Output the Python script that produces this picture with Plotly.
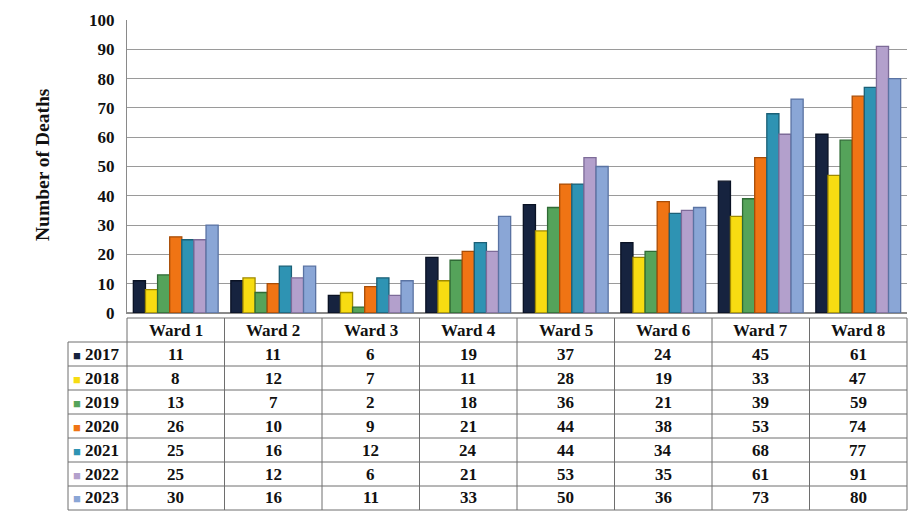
import plotly.graph_objects as go

wards = ["Ward 1", "Ward 2", "Ward 3", "Ward 4", "Ward 5", "Ward 6", "Ward 7", "Ward 8"]
years = ["2017", "2018", "2019", "2020", "2021", "2022", "2023"]

deaths_2017 = [11, 11, 6, 19, 37, 24, 45, 61]
deaths_2018 = [8, 12, 7, 11, 28, 19, 33, 47]
deaths_2019 = [13, 7, 2, 18, 36, 21, 39, 59]
deaths_2020 = [26, 10, 9, 21, 44, 38, 53, 74]
deaths_2021 = [25, 16, 12, 24, 44, 34, 68, 77]
deaths_2022 = [25, 12, 6, 21, 53, 35, 61, 91]
deaths_2023 = [30, 16, 11, 33, 50, 36, 73, 80]

series = [deaths_2017, deaths_2018, deaths_2019, deaths_2020,
          deaths_2021, deaths_2022, deaths_2023]
colors = ["#16233f", "#f7dc12", "#55a35a", "#f07414", "#2e93b3", "#b3a0cc", "#8aa6d6"]
edges = ["#0a1224", "#a08a00", "#2f6a35", "#a84c06", "#1b6077", "#7d6b98", "#5a73a3"]

W, H = 923, 520
L, R, T, B = 127, 16, 20, 207
PW, PH = W - L - R, H - T - B
FONT = "Times New Roman, Liberation Serif, DejaVu Serif, serif"

fig = go.Figure()
for yr, vals, c, e in zip(years, series, colors, edges):
    fig.add_trace(go.Bar(
        x=wards, y=vals, name=yr,
        marker=dict(color=c, line=dict(color=e, width=1.3)),
        showlegend=False,
    ))


def py(pix):
    """Convert a pixel row (from top) to paper y."""
    return (H - B - pix) / PH


def px(pix):
    return (pix - L) / PW


shapes = []
annotations = []

# data table below the plot
head_top, head_bot = 318, 342
row_h = 24
left_edge = 68
n_rows = len(years)
table_bot = head_bot + n_rows * row_h
line_col = "#6e6e6e"

shapes.append(dict(type="line", xref="paper", yref="paper",
                   x0=0, x1=1, y0=py(head_top), y1=py(head_top),
                   line=dict(color=line_col, width=1)))
for r in range(n_rows + 1):
    yy = py(head_bot + r * row_h)
    shapes.append(dict(type="line", xref="paper", yref="paper",
                       x0=px(left_edge), x1=1, y0=yy, y1=yy,
                       line=dict(color=line_col, width=1)))
for k in range(len(wards) + 1):
    xx = k / len(wards)
    shapes.append(dict(type="line", xref="paper", yref="paper",
                       x0=xx, x1=xx, y0=py(head_top), y1=py(table_bot),
                       line=dict(color=line_col, width=1)))
shapes.append(dict(type="line", xref="paper", yref="paper",
                   x0=px(left_edge), x1=px(left_edge),
                   y0=py(head_bot), y1=py(table_bot),
                   line=dict(color=line_col, width=1)))

fnt = dict(family=FONT, size=17, color="#111111")
for i, wname in enumerate(wards):
    annotations.append(dict(x=wname, xref="x", yref="paper",
                            y=py((head_top + head_bot) / 2), text=f"<b>{wname}</b>",
                            showarrow=False, font=fnt, xanchor="center", yanchor="middle"))
for r, (yr, vals, c) in enumerate(zip(years, series, colors)):
    yc = py(head_bot + r * row_h + row_h / 2)
    annotations.append(dict(x=px(left_edge + 3), xref="paper", yref="paper", y=yc,
                            text=f"<span style='color:{c};font-size:13px'>■</span> <b>{yr}</b>",
                            showarrow=False, font=fnt, xanchor="left", yanchor="middle"))
    for i, v in enumerate(vals):
        annotations.append(dict(x=wards[i], xref="x", yref="paper", y=yc,
                                text=f"<b>{v}</b>", showarrow=False, font=fnt,
                                xanchor="center", yanchor="middle"))

# axis title
annotations.append(dict(x=px(42), xref="paper", yref="paper", y=py(165),
                        text="<b>Number of Deaths</b>", textangle=-90, showarrow=False,
                        font=dict(family=FONT, size=19.5, color="#111111"),
                        xanchor="center", yanchor="middle"))

fig.update_layout(
    width=W, height=H,
    margin=dict(l=L, r=R, t=T, b=B),
    paper_bgcolor="white", plot_bgcolor="white",
    barmode="group", bargap=0.13, bargroupgap=0.0,
    xaxis=dict(showticklabels=False, showgrid=False, showline=True,
               linecolor="#8a8a8a", linewidth=1, ticks=""),
    yaxis=dict(range=[0, 100], dtick=10, showgrid=True, gridcolor="#9a9a9a",
               gridwidth=1, showline=True, linecolor="#8a8a8a", linewidth=1,
               zeroline=True, zerolinecolor="#8a8a8a",
               tickfont=dict(family=FONT, size=17, color="#111111"),
               ticklabelstandoff=8),
    shapes=shapes,
    annotations=annotations,
)
fig.update_yaxes(tickprefix="<b>", ticksuffix="</b>")

fig.write_html("out.html")
